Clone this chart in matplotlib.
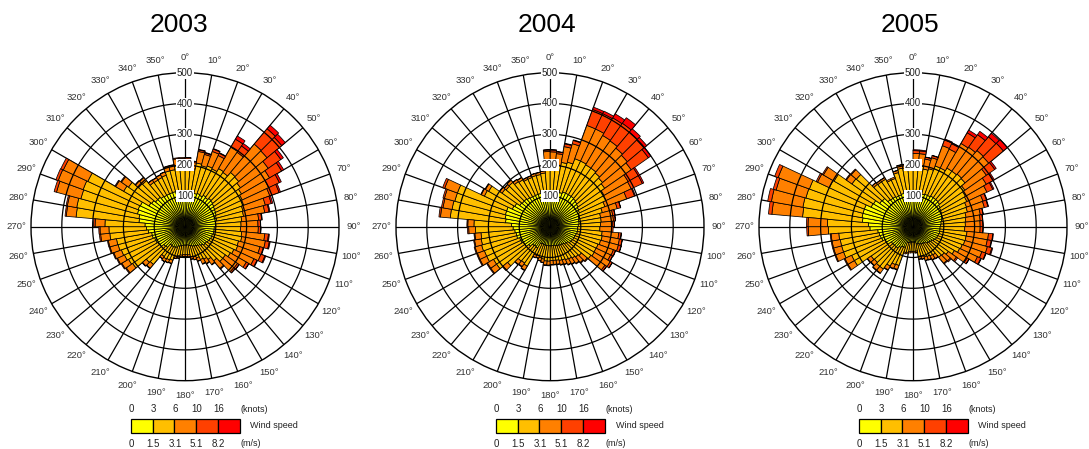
import numpy as np
import matplotlib
matplotlib.use("Agg")
import matplotlib.pyplot as plt
from matplotlib.patches import Rectangle

plt.rcParams['font.family'] = ['Liberation Sans', 'DejaVu Sans']

# ---------------- data (counts per 5-degree sector, 0-5, 5-10, ... 355-360) -------------
years = ["2003", "2004", "2005"]
speed_knots = ["0", "3", "6", "10", "16"]
speed_ms = ["0", "1.5", "3.1", "5.1", "8.2"]
bin_start_deg = list(range(0, 360, 5))
angle_labels_deg = list(range(0, 360, 10))
radial_ticks = [100, 200, 300, 400, 500]

y2003_0_3kn = [115,110,115,112,115,112,118,115,120,118,115,112,110,108,105,105,100,100,
               95,95,95,92,92,90,88,85,85,80,75,72,70,68,65,63,60,60,
               60,62,64,66,72,74,75,74,88,90,100,102,105,105,110,110,120,125,
               130,150,152,160,162,160,135,132,125,125,120,118,118,118,118,118,118,115]
y2003_3_6kn = [85,80,95,93,95,95,100,100,110,110,105,100,95,95,90,88,85,82,
               85,90,92,88,90,85,82,75,75,65,55,50,48,40,37,36,32,31,
               31,31,33,34,44,45,46,44,72,74,108,110,112,115,115,116,125,122,
               130,205,205,190,190,188,95,92,72,70,56,57,58,60,70,70,82,85]
y2003_6_10kn = [20,20,38,38,50,48,80,80,120,120,110,105,95,90,75,70,55,55,
                58,75,78,72,80,72,60,48,47,32,20,16,15,11,9,8,7,6,
                6,6,7,7,11,10,10,9,16,16,25,25,25,26,27,27,30,29,
                32,32,31,82,86,88,30,28,13,13,9,9,10,11,15,15,22,22]
y2003_10_16kn = [4,4,5,5,8,8,30,25,65,62,50,45,38,32,20,14,10,8,
                 8,12,13,11,14,11,9,6,5,3,2,2,2,1,1,1,1,1,
                 1,1,1,1,1,1,1,1,2,2,3,3,3,3,3,3,4,4,
                 5,4,4,8,8,9,3,3,2,2,1,1,1,1,2,2,3,3]
y2003_16kn = [1,1,2,2,2,2,12,10,15,15,10,8,7,5,5,3,2,1,
              1,3,3,2,3,2,1,1,1,0,0,0,0,0,0,0,0,0,
              0,0,0,0,0,0,0,0,0,0,0,0,0,0,0,0,0,0,
              0,0,0,0,0,0,0,0,0,0,0,0,0,0,0,0,0,0]

y2004_0_3kn = [110,110,112,115,120,120,120,120,118,115,112,108,106,102,98,95,95,92,
               90,90,90,88,86,85,84,82,75,73,70,68,67,65,64,62,62,62,
               62,62,62,61,60,61,80,78,80,90,100,100,105,105,112,112,115,120,
               125,145,148,150,150,135,132,120,118,118,115,113,112,112,112,112,112,115]
y2004_3_6kn = [95,92,100,102,115,115,112,112,110,108,105,95,95,88,78,72,72,72,
               72,80,82,82,80,80,82,80,58,56,55,53,52,50,50,49,48,48,
               50,50,45,44,41,42,68,66,66,90,112,112,122,122,118,115,110,122,
               122,180,175,170,170,100,98,70,68,70,64,63,58,58,60,60,63,95]
y2004_6_10kn = [38,36,52,62,115,115,110,108,105,105,105,90,90,75,50,40,40,40,
                38,54,57,60,53,52,60,56,25,23,21,19,17,15,14,13,13,13,
                13,13,11,10,8,8,15,14,14,19,23,23,24,24,22,22,20,22,
                20,32,30,35,44,11,12,9,8,9,8,8,6,6,7,7,7,34]
y2004_10_16kn = [6,6,9,11,55,55,66,70,68,70,68,38,40,27,11,7,6,5,
                 5,8,9,9,7,7,7,6,3,3,2,2,2,2,2,2,2,2,
                 2,2,1,1,1,1,2,2,2,3,3,3,3,3,3,3,3,4,
                 3,5,5,5,7,2,2,1,1,1,1,1,1,1,1,1,1,5]
y2004_16kn = [1,1,2,2,8,9,15,22,14,12,10,5,5,3,1,1,1,1,
              0,1,1,1,1,1,1,1,0,0,0,0,0,0,0,0,0,0,
              0,0,0,0,0,0,0,0,0,0,0,0,0,0,0,0,0,0,
              0,0,0,0,0,0,0,0,0,0,0,0,0,0,0,0,0,1]

y2005_0_3kn = [110,110,108,110,112,112,115,115,115,113,108,105,103,100,98,95,92,90,
               88,88,88,86,85,84,80,75,72,70,64,63,62,61,58,57,50,50,
               50,50,52,53,72,73,78,85,85,85,86,100,100,108,110,112,115,140,
               145,165,168,168,168,150,148,132,130,115,113,113,110,110,112,113,113,113]
y2005_3_6kn = [88,88,82,85,98,98,105,105,108,108,98,92,90,85,85,80,80,80,
               80,88,87,88,85,83,75,65,60,60,48,47,45,44,41,41,30,30,
               30,31,33,34,62,63,70,83,83,79,80,120,120,132,130,128,127,135,
               133,195,195,192,190,150,148,110,110,65,65,65,57,57,70,80,80,80]
y2005_6_10kn = [40,40,33,37,70,68,92,95,100,100,85,78,72,57,57,47,47,48,
                50,70,70,76,68,64,48,32,26,25,14,14,12,12,10,9,5,5,
                5,5,5,5,14,14,14,16,16,14,14,24,24,27,27,27,25,65,
                63,100,104,100,108,42,40,22,22,7,6,6,5,5,7,11,11,11]
y2005_10_16kn = [9,9,6,7,20,19,40,50,58,62,33,25,21,12,12,9,8,9,
                 9,14,13,15,13,12,7,5,4,3,2,2,1,1,1,1,1,0,
                 0,0,0,0,2,2,2,2,2,2,2,3,3,3,3,3,3,5,
                 5,11,12,10,12,5,4,3,3,1,1,1,0,0,1,1,1,1]
y2005_16kn = [3,3,1,1,3,3,10,13,15,17,6,5,4,2,2,1,1,1,
              1,2,2,3,2,2,1,0,0,0,0,0,0,0,0,0,0,0,
              0,0,0,0,0,0,0,0,0,0,0,0,0,0,0,0,0,0,
              0,0,0,0,0,0,0,0,0,0,0,0,0,0,0,0,0,0]

series = {
    "2003": [y2003_0_3kn, y2003_3_6kn, y2003_6_10kn, y2003_10_16kn, y2003_16kn],
    "2004": [y2004_0_3kn, y2004_3_6kn, y2004_6_10kn, y2004_10_16kn, y2004_16kn],
    "2005": [y2005_0_3kn, y2005_3_6kn, y2005_6_10kn, y2005_10_16kn, y2005_16kn],
}
class_colors = ["#FFFF00", "#FFBF00", "#FF8000", "#FF4000", "#FF0000"]

# ---------------- layout ----------------
W, H = 1089, 449
fig = plt.figure(figsize=(W / 100, H / 100), dpi=100)
centers_x = [185, 550, 913]
title_x = [179, 547, 910]
center_y = 226.7
R = 154.0

def fx(px):
    return px / W

def fy(py):
    return 1 - py / H

theta_fine = np.linspace(0, 2 * np.pi, 721)

for i, yr in enumerate(years):
    cx = centers_x[i]
    ax = fig.add_axes([fx(cx - R), (H - center_y - R) / H, 2 * R / W, 2 * R / H],
                      projection='polar')
    ax.set_theta_zero_location('N')
    ax.set_theta_direction(-1)
    ax.set_ylim(0, 500)
    ax.grid(False)
    ax.set_xticks([])
    ax.set_yticks([])
    ax.spines['polar'].set_color('black')
    ax.spines['polar'].set_linewidth(1.0)
    ax.spines['polar'].set_zorder(4)

    # spokes
    for d in angle_labels_deg:
        t = np.deg2rad(d)
        ax.plot([t, t], [0, 500], color='black', lw=0.9, zorder=1)

    # stacked bars
    theta = np.deg2rad(np.array(bin_start_deg, dtype=float))
    width = np.deg2rad(5)
    bottom = np.zeros(len(bin_start_deg))
    for vals, col in zip(series[yr], class_colors):
        v = np.array(vals, dtype=float)
        m = v > 0
        ax.bar(theta[m], v[m], width=width, bottom=bottom[m], align='edge',
               color=col, edgecolor='black', linewidth=0.55, zorder=2)
        bottom = bottom + v

    # rings on top
    for r in radial_ticks[:-1]:
        ax.plot(theta_fine, np.full_like(theta_fine, r), color='black', lw=0.9, zorder=3)

    # radial labels
    for r in radial_ticks:
        ax.text(0, r, str(r), ha='center', va='center', fontsize=7, color='#222222',
                zorder=5, bbox=dict(facecolor='white', edgecolor='none', pad=0.6))

    # angle labels
    for d in angle_labels_deg:
        ax.text(np.deg2rad(d), 548, f"{d}\u00b0", ha='center', va='center',
                fontsize=6.8, color='#333333', clip_on=False)

    # title
    fig.text(fx(title_x[i]), fy(24.5), yr, ha='center', va='center', fontsize=19,
             color='black')

    # legend
    bx0 = cx - 54
    bw = 21.7
    by_top, bh = 419, 14
    for k, col in enumerate(class_colors):
        fig.add_artist(Rectangle((fx(bx0 + k * bw), fy(by_top + bh)), bw / W, bh / H,
                                 transform=fig.transFigure, facecolor=col,
                                 edgecolor='black', linewidth=0.9))
    for k in range(5):
        fig.text(fx(bx0 + k * bw + 0.5), fy(409), speed_knots[k], ha='center',
                 va='center', fontsize=7, color='#222222')
        fig.text(fx(bx0 + k * bw + 0.5), fy(444), speed_ms[k], ha='center',
                 va='center', fontsize=7, color='#222222')
    fig.text(fx(bx0 + 5 * bw + 1), fy(409), "(knots)", ha='left', va='center',
             fontsize=6.5, color='#222222')
    fig.text(fx(bx0 + 5 * bw + 1), fy(444), "(m/s)", ha='left', va='center',
             fontsize=6.5, color='#222222')
    fig.text(fx(bx0 + 5 * bw + 11), fy(426), "Wind speed", ha='left', va='center',
             fontsize=6.5, color='#222222')

fig.savefig("out.png", dpi=100, facecolor='white')
